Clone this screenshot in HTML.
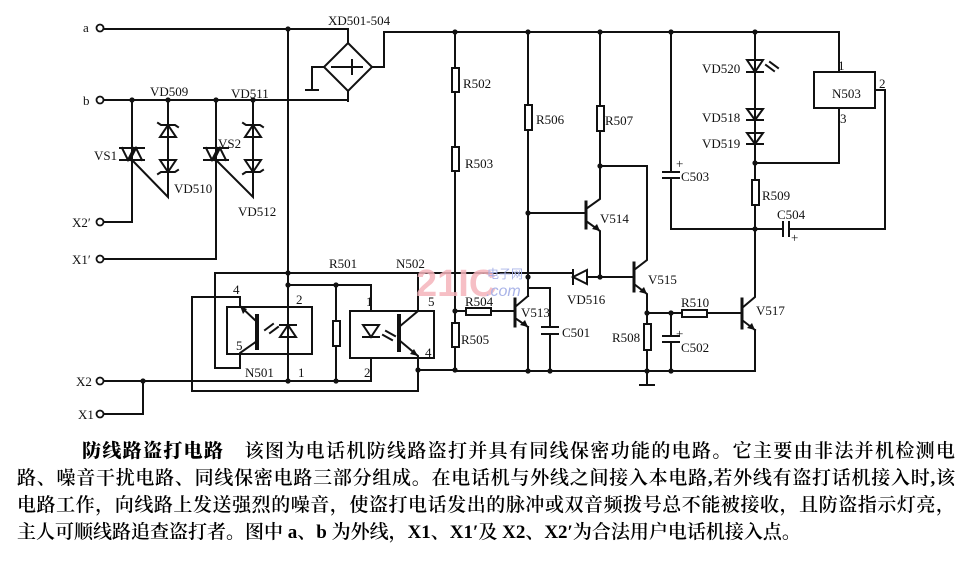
<!DOCTYPE html>
<html><head><meta charset="utf-8"><style>
html,body{margin:0;padding:0;background:#fff;}
body{width:963px;height:564px;position:relative;overflow:hidden;}
svg{position:absolute;left:0;top:0;}
.t{position:absolute;left:17px;width:938px;font-family:"Liberation Serif","Noto Serif CJK SC","Noto Sans CJK SC",serif;font-size:19px;line-height:22px;color:#000;font-weight:600;text-align:justify;text-align-last:justify;white-space:nowrap;}
.l{text-align-last:left;width:auto;}
</style></head><body>
<svg width="963" height="564" viewBox="0 0 963 564" xmlns="http://www.w3.org/2000/svg">
<g stroke="#111" stroke-width="2" fill="none" stroke-linecap="square">
<path d="M104 29 H348 V43"/>
<path d="M372 67 H384 V32 H839 V72"/>
<path d="M323 67 H312 V90 M306 90 H318"/>
<path d="M348 43 L372 67 L348 91 L324 67 Z"/>
<path d="M332 67 H362 M352 60 V74"/>
<path d="M348 91 V101"/>
<path d="M104 100 H348"/>
<path d="M288 29 V381"/>
<path d="M132 100 V222 H104"/>
<path d="M120 148 H144 M120 160 H144"/>
<path d="M122 148 L128 160 L134 148 M130 160 L136 148 L142 160"/>
<path d="M132 160 L168 197 V100"/>
<path d="M160 137 H176 L168 125 Z M158 123 L161 125 H175 L178 127"/>
<path d="M160 160 H176 L168 172 Z M158 174 L161 172 H175 L178 170"/>
<path d="M216 100 V259 H104"/>
<path d="M204 148 H228 M204 160 H228"/>
<path d="M206 148 L212 160 L218 148 M214 160 L220 148 L226 160"/>
<path d="M216 160 L253 197 V100"/>
<path d="M245 137 H261 L253 125 Z M243 123 L246 125 H260 L263 127"/>
<path d="M245 160 H261 L253 172 Z M243 174 L246 172 H260 L263 170"/>
<path d="M104 381 H371 V358"/>
<path d="M104 414 H143 V381"/>
<path d="M215 273 H573"/>
<path d="M215 273 V368 H240 V353 L257 341"/>
<path d="M192 297 H240 V306 L257 322"/>
<path d="M192 297 V391 H418 V370"/>
<rect x="227" y="307" width="85" height="47"/>
<path d="M257 316 V348" stroke-width="4"/>
<path d="M280 337 H296 L288 325 Z M280 325 H296"/>
<path d="M265 330 L273 324 M270 333 L278 327"/>
<path d="M288 285 H371 V311"/>
<path d="M336 285 V381"/>
<rect x="333" y="321" width="7" height="25" fill="#fff"/>
<rect x="350" y="311" width="84" height="47"/>
<path d="M363 325 H379 L371 337 Z M363 337 H379"/>
<path d="M383 335 L392 340 M386 331 L395 336"/>
<path d="M399 316 V350" stroke-width="4"/>
<path d="M399 327 L418 311 V273"/>
<path d="M399 340 L418 356 V370 H455"/>
<path d="M455 32 V371 H755 V330"/>
<rect x="452" y="68" width="7" height="24" fill="#fff"/>
<rect x="452" y="147" width="7" height="24" fill="#fff"/>
<rect x="452" y="323" width="7" height="24" fill="#fff"/>
<path d="M455 311 H466 M491 311 H515"/>
<rect x="466" y="308" width="25" height="7" fill="#fff"/>
<path d="M515 299 V326" stroke-width="3"/>
<path d="M515 307 L528 296 M515 318 L528 327"/>
<path d="M528 32 V296 M528 327 V371"/>
<rect x="525" y="105" width="7" height="25" fill="#fff"/>
<path d="M528 288 H550 V327 M542 327 H558 M542 334 H558 M550 334 V371"/>
<path d="M528 213 H586"/>
<path d="M586 202 V228" stroke-width="3"/>
<path d="M586 209 L600 199 V32 M586 221 L600 231 V277"/>
<rect x="597" y="106" width="7" height="25" fill="#fff"/>
<path d="M600 166 H647 V254"/>
<path d="M573 270 V284 M573 277 L587 270 V284 Z"/>
<path d="M587 277 H634"/>
<path d="M634 263 V291" stroke-width="3"/>
<path d="M634 270 L647 260 V254 M634 284 L647 294 V371"/>
<rect x="644" y="324" width="7" height="26" fill="#fff"/>
<path d="M640 385 H654 M647 371 V385"/>
<path d="M647 313 H682 M707 313 H742"/>
<rect x="682" y="310" width="25" height="7" fill="#fff"/>
<path d="M671 313 V336 M663 336 H679 M663 342 H679 M671 342 V371"/>
<path d="M742 299 V328" stroke-width="3"/>
<path d="M742 308 L755 297 V229 M742 320 L755 330"/>
<path d="M671 32 V172 M663 172 H679 M663 178 H679 M671 178 V229 H755"/>
<path d="M755 32 V229"/>
<path d="M747 60 H763 L755 72 Z M747 72 H763"/>
<path d="M766 65 L774 71 M770 62 L778 68"/>
<path d="M747 109 H763 L755 120 Z M747 120 H763"/>
<path d="M747 133 H763 L755 144 Z M747 144 H763"/>
<rect x="752" y="180" width="7" height="25" fill="#fff"/>
<path d="M755 163 H839 V108"/>
<path d="M755 229 H783 M783 222 V236 M789 222 V236 M789 229 H885 V90 H875"/>
<rect x="814" y="72" width="61" height="36"/>
</g>
<g fill="#111" stroke="none">
<polygon points="600,231 592,229 597,224"/>
<polygon points="647,294 639,292 644,287"/>
<polygon points="755,330 747,328 752,323"/>
<polygon points="528,327 520,325 525,320"/>
<polygon points="418,356 410,354 414,349"/>
<polygon points="240,306 247,309 243,314"/>
<circle cx="288" cy="29" r="2.6"/><circle cx="455" cy="32" r="2.6"/><circle cx="528" cy="32" r="2.6"/><circle cx="600" cy="32" r="2.6"/><circle cx="671" cy="32" r="2.6"/><circle cx="755" cy="32" r="2.6"/>
<circle cx="132" cy="100" r="2.6"/><circle cx="168" cy="100" r="2.6"/><circle cx="216" cy="100" r="2.6"/><circle cx="253" cy="100" r="2.6"/>
<circle cx="143" cy="381" r="2.6"/><circle cx="288" cy="273" r="2.6"/><circle cx="288" cy="285" r="2.6"/><circle cx="336" cy="285" r="2.6"/><circle cx="288" cy="381" r="2.6"/><circle cx="336" cy="381" r="2.6"/>
<circle cx="418" cy="370" r="2.6"/><circle cx="455" cy="370" r="2.6"/><circle cx="455" cy="311" r="2.6"/>
<circle cx="528" cy="213" r="2.6"/><circle cx="528" cy="277" r="2.6"/><circle cx="528" cy="371" r="2.6"/><circle cx="550" cy="371" r="2.6"/>
<circle cx="600" cy="166" r="2.6"/><circle cx="600" cy="277" r="2.6"/><circle cx="647" cy="313" r="2.6"/><circle cx="671" cy="313" r="2.6"/><circle cx="647" cy="371" r="2.6"/><circle cx="671" cy="371" r="2.6"/>
<circle cx="755" cy="163" r="2.6"/><circle cx="755" cy="229" r="2.6"/>
</g>
<g fill="#fff" stroke="#111" stroke-width="1.8">
<circle cx="100" cy="28" r="3.5"/><circle cx="100" cy="100" r="3.5"/><circle cx="100" cy="222" r="3.5"/><circle cx="100" cy="259" r="3.5"/><circle cx="100" cy="381" r="3.5"/><circle cx="100" cy="414" r="3.5"/>
</g>
<g font-family="Liberation Serif, serif" font-size="13" fill="#111">
<text x="83" y="32">a</text><text x="83" y="105">b</text>
<text x="72" y="227">X2′</text><text x="72" y="264">X1′</text>
<text x="76" y="386">X2</text><text x="78" y="419">X1</text>
<text x="328" y="25">XD501-504</text>
<text x="150" y="96">VD509</text><text x="231" y="98">VD511</text>
<text x="94" y="160">VS1</text><text x="218" y="148">VS2</text>
<text x="174" y="193">VD510</text><text x="238" y="216">VD512</text>
<text x="329" y="268">R501</text><text x="396" y="268">N502</text>
<text x="233" y="294">4</text><text x="296" y="304">2</text><text x="236" y="350">5</text>
<text x="245" y="377">N501</text><text x="298" y="377">1</text>
<text x="366" y="306">1</text><text x="428" y="306">5</text><text x="425" y="357">4</text><text x="364" y="377">2</text>
<text x="463" y="88">R502</text><text x="465" y="168">R503</text>
<text x="536" y="124">R506</text><text x="605" y="125">R507</text>
<text x="465" y="306">R504</text><text x="461" y="344">R505</text>
<text x="521" y="317">V513</text><text x="562" y="337">C501</text>
<text x="600" y="223">V514</text><text x="567" y="304">VD516</text>
<text x="648" y="284">V515</text><text x="612" y="342">R508</text>
<text x="681" y="307">R510</text><text x="681" y="352">C502</text><text x="676" y="338">+</text>
<text x="756" y="315">V517</text>
<text x="681" y="181">C503</text><text x="676" y="168">+</text>
<text x="702" y="73">VD520</text><text x="702" y="122">VD518</text><text x="702" y="148">VD519</text>
<text x="762" y="200">R509</text><text x="777" y="219">C504</text><text x="791" y="242">+</text>
<text x="832" y="98">N503</text><text x="838" y="70">1</text><text x="879" y="88">2</text><text x="840" y="123">3</text>
</g>
<text x="416" y="296" font-family="Liberation Sans, sans-serif" font-weight="bold" font-size="38" fill="#f5b4bc" opacity="0.85">21IC</text>
<text x="487" y="278" font-family="Liberation Sans, 'Noto Sans CJK SC', sans-serif" font-size="12" fill="#aab4e8">电子网</text>
<text x="486" y="296" font-family="Liberation Sans, sans-serif" font-style="italic" font-size="16" fill="#aab4e8">.com</text>
</svg>
<div class="t" style="top:441px;left:82px;width:873px;"><b>防线路盗打电路</b>　该图为电话机防线路盗打并具有同线保密功能的电路。它主要由非法并机检测电</div>
<div class="t" style="top:468px;">路、噪音干扰电路、同线保密电路三部分组成。在电话机与外线之间接入本电路,若外线有盗打话机接入时,该</div>
<div class="t" style="top:495px;">电路工作，向线路上发送强烈的噪音，使盗打电话发出的脉冲或双音频拨号总不能被接收，且防盗指示灯亮，</div>
<div class="t l" style="top:522px;">主人可顺线路追查盗打者。图中 a、b 为外线，X1、X1′及 X2、X2′为合法用户电话机接入点。</div>
</body></html>
